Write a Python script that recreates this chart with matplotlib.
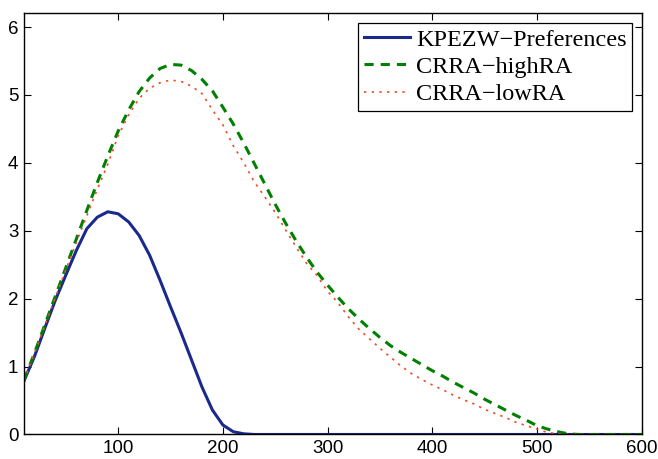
import numpy as np
import matplotlib.pyplot as plt

# grid of the x axis
x = np.arange(10, 610, 10)

# KPEZW-Preferences
kpezw = [0.79, 1.15, 1.57, 1.98, 2.35, 2.71, 3.03, 3.20, 3.28, 3.25,
         3.13, 2.93, 2.64, 2.27, 1.88, 1.50, 1.10, 0.70, 0.36, 0.14,
         0.04, 0.01] + [0.0] * 38

# CRRA-highRA
crra_high = [0.80, 1.20, 1.62, 2.04, 2.46, 2.88, 3.30, 3.71, 4.10, 4.47,
             4.78, 5.05, 5.25, 5.39, 5.45, 5.44, 5.36, 5.23, 5.06, 4.82,
             4.57, 4.29, 3.99, 3.69, 3.39, 3.11, 2.85, 2.61, 2.39, 2.20,
             2.02, 1.85, 1.70, 1.56, 1.43, 1.31, 1.21, 1.12, 1.03, 0.94,
             0.86, 0.77, 0.69, 0.61, 0.52, 0.44, 0.36, 0.28, 0.21, 0.13,
             0.08, 0.04, 0.01] + [0.0] * 7

# CRRA-lowRA
crra_low = [0.80, 1.20, 1.61, 2.02, 2.43, 2.83, 3.22, 3.61, 3.98, 4.40,
            4.71, 4.95, 5.10, 5.18, 5.22, 5.20, 5.13, 5.02, 4.78, 4.56,
            4.25, 4.00, 3.72, 3.50, 3.27, 3.01, 2.76, 2.52, 2.34, 2.11,
            1.94, 1.73, 1.55, 1.41, 1.27, 1.14, 1.01, 0.90, 0.81, 0.73,
            0.66, 0.58, 0.51, 0.45, 0.37, 0.31, 0.25, 0.18, 0.13, 0.08,
            0.03, 0.01] + [0.0] * 8

plt.rcParams['font.family'] = ['Liberation Sans', 'DejaVu Sans']

fig = plt.figure(figsize=(6.58, 4.59), dpi=100)
ax = fig.add_axes([0.0365, 0.0534, 0.9385, 0.9172])

ax.plot(x, kpezw, color='#1a2a8c', linewidth=2.2, label='KPEZW\u2212Preferences')
ax.plot(x, crra_high, color='#008000', linewidth=2.2, linestyle=(0, (3.0, 2.3)),
        label='CRRA\u2212highRA')
ax.plot(x, crra_low, color='#f04a28', linewidth=1.2, linestyle=(0, (1.4, 3.2)),
        label='CRRA\u2212lowRA')

ax.set_xlim(10, 600)
ax.set_ylim(0, 6.2)
ax.set_xticks([100, 200, 300, 400, 500, 600])
ax.set_yticks([0, 1, 2, 3, 4, 5, 6])
ax.tick_params(direction='in', length=5, width=0.8, top=True, right=True,
               labelsize=13.5, pad=4)
for s in ax.spines.values():
    s.set_linewidth(1.0)

leg = ax.legend(loc='upper right', prop={'family': 'Liberation Serif', 'size': 17.5},
                frameon=True, fancybox=False, edgecolor='black', framealpha=1,
                borderaxespad=0.4, handlelength=1.9, handletextpad=0.25,
                labelspacing=0.22, borderpad=0.22)
leg.get_frame().set_linewidth(0.9)

fig.savefig('out.png', dpi=100)
